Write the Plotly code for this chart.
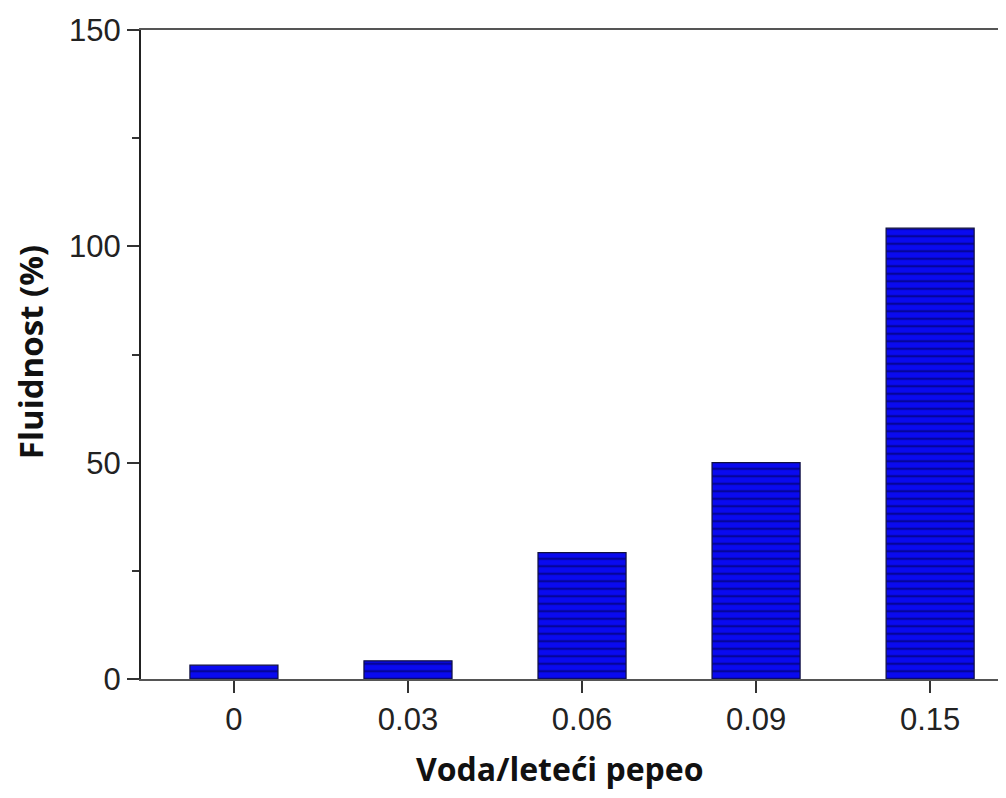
import plotly.graph_objects as go

categories = ["0", "0.03", "0.06", "0.09", "0.15"]
fluidity = [3.2, 4.2, 29.2, 50.0, 104.2]
y_ticks = [0, 50, 100, 150]
x_title = "<b>Voda/leteći pepeo</b>"
y_title = "<b>Fluidnost (%)</b>"

fig = go.Figure()
fig.add_trace(go.Bar(
    x=categories,
    y=fluidity,
    marker=dict(
        color="#0a0af0",
        line=dict(color="#101040", width=1.2),
        pattern=dict(shape="-", size=7.5, solidity=0.3,
                     fgcolor="#000044", bgcolor="#0a0af0"),
    ),
    showlegend=False,
))

# page body has an 8px margin; figure sized to fit the window without scrollbars
fig.update_layout(
    width=990, height=782,
    margin=dict(l=133, r=0, t=22, b=111),
    paper_bgcolor="white", plot_bgcolor="white",
    bargap=0.494,
    font=dict(family="Liberation Sans, Arial, sans-serif", size=31, color="#222"),
)

fig.update_xaxes(
    type="category",
    range=[-0.534, 4.39],
    automargin=False,
    showline=True, linecolor="#555", linewidth=2, mirror=True,
    ticks="outside", ticklen=12, tickwidth=2, tickcolor="#333",
    showgrid=False, zeroline=False,
)

fig.update_yaxes(
    range=[0, 150],
    tickvals=y_ticks,
    automargin=False,
    showline=True, linecolor="#222", linewidth=2,
    ticks="outside", ticklen=12, tickwidth=2, tickcolor="#333",
    minor=dict(ticks="outside", ticklen=7, tickwidth=2, tickcolor="#333", dtick=25, showgrid=False),
    showgrid=False, zeroline=False,
)

fig.add_annotation(
    text=x_title, xref="paper", yref="paper", x=0.489, y=-0.1375,
    xanchor="center", yanchor="middle", showarrow=False, borderpad=0,
    font=dict(family="Open Sans, DejaVu Sans, sans-serif", size=32, color="#111"),
)
fig.add_annotation(
    text=y_title, xref="paper", yref="paper", x=-0.128, y=0.504,
    xanchor="center", yanchor="middle", showarrow=False, textangle=-90, borderpad=0,
    font=dict(family="Open Sans, DejaVu Sans, sans-serif", size=33, color="#111"),
)

fig.write_html("out.html")
